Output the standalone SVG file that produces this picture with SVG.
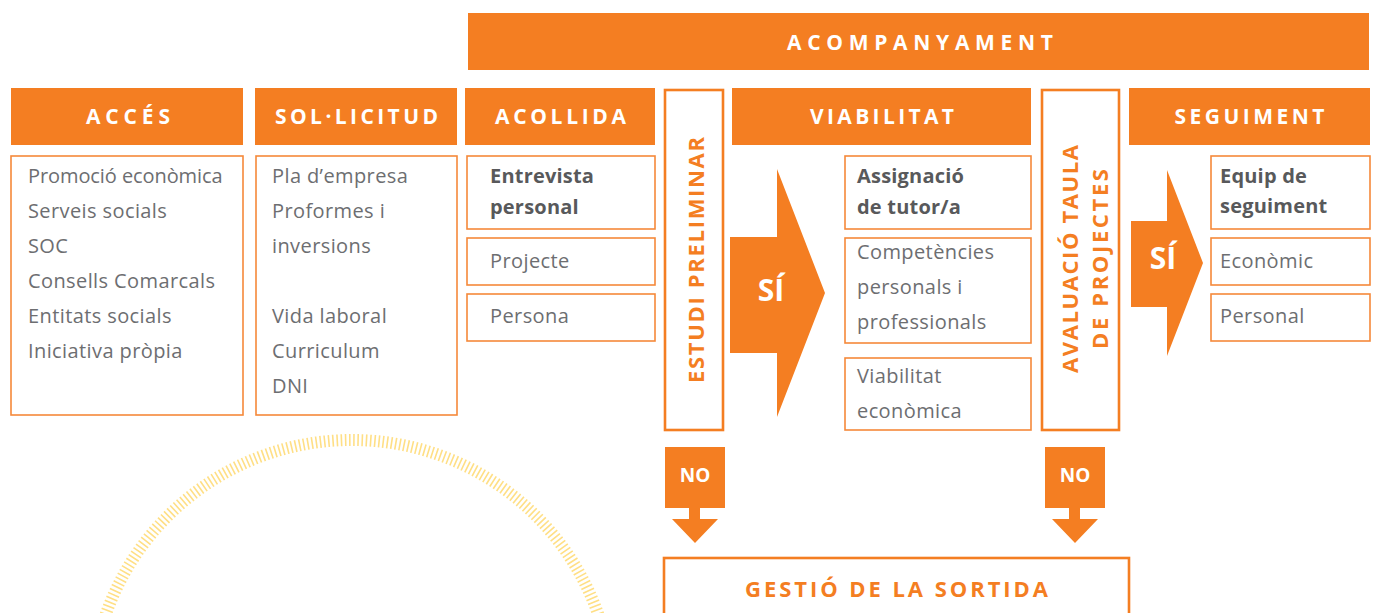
<svg xmlns="http://www.w3.org/2000/svg" width="1375" height="613" viewBox="0 0 1375 613">
<style>
.hdr{fill:#F47E22}
.box{fill:#fff;stroke:#F5893A;stroke-width:1.6}
.vbox{fill:#fff;stroke:#F47E22;stroke-width:2.6}
.ht{font-family:"Open Sans","Liberation Sans",sans-serif;font-weight:700;font-size:21px;fill:#fff;text-anchor:middle}
.vt{font-family:"Open Sans","Liberation Sans",sans-serif;font-weight:700;font-size:22px;fill:#F47E22;text-anchor:middle}
.t{font-family:"Open Sans","Liberation Sans",sans-serif;font-size:20px;letter-spacing:0.4px;fill:#6D6E71}
.b{font-family:"Open Sans","Liberation Sans",sans-serif;font-size:20px;font-weight:700;letter-spacing:0.2px;fill:#58595B}
.arr{fill:#F47E22}
.si{font-family:"Open Sans","Liberation Sans",sans-serif;font-weight:700;font-size:30px;fill:#fff;text-anchor:middle}
.no{font-family:"Open Sans","Liberation Sans",sans-serif;font-weight:700;font-size:19px;fill:#fff;text-anchor:middle}
</style>
<rect width="1375" height="613" fill="#fff"/>
<circle cx="352" cy="701" r="261" fill="none" stroke="#FFDF85" stroke-width="12" stroke-dasharray="1.6 2.6"/>

<g id="acompanyament">
<rect class="hdr" x="468" y="13" width="901" height="57"/>
<text class="ht" x="920" y="50" textLength="266" lengthAdjust="spacing">ACOMPANYAMENT</text>
</g>

<g id="acces">
<rect class="hdr" x="11" y="88" width="232" height="57"/>
<text class="ht" x="128" y="124" textLength="84" lengthAdjust="spacing">ACCÉS</text>
<rect class="box" x="11" y="156" width="232" height="259"/>
<text class="t" x="28" y="183" textLength="195" lengthAdjust="spacing">Promoció econòmica</text>
<text class="t" x="28" y="218">Serveis socials</text>
<text class="t" x="28" y="253">SOC</text>
<text class="t" x="28" y="288">Consells Comarcals</text>
<text class="t" x="28" y="323">Entitats socials</text>
<text class="t" x="28" y="358">Iniciativa pròpia</text>
</g>

<g id="sollicitud">
<rect class="hdr" x="255" y="88" width="202" height="57"/>
<text class="ht" x="356.5" y="124" textLength="163" lengthAdjust="spacing">SOL·LICITUD</text>
<rect class="box" x="256" y="156" width="201" height="259"/>
<text class="t" x="272" y="183">Pla d’empresa</text>
<text class="t" x="272" y="218">Proformes i</text>
<text class="t" x="272" y="253">inversions</text>
<text class="t" x="272" y="323">Vida laboral</text>
<text class="t" x="272" y="358">Curriculum</text>
<text class="t" x="272" y="393">DNI</text>
</g>

<g id="acollida">
<rect class="hdr" x="465" y="88" width="190" height="57"/>
<text class="ht" x="560.5" y="124" textLength="131" lengthAdjust="spacing">ACOLLIDA</text>
<rect class="box" x="467" y="156" width="188" height="73"/>
<text class="b" x="490" y="183">Entrevista</text>
<text class="b" x="490" y="214">personal</text>
<rect class="box" x="467" y="238" width="188" height="47"/>
<text class="t" x="490" y="268">Projecte</text>
<rect class="box" x="467" y="294" width="188" height="47"/>
<text class="t" x="490" y="323">Persona</text>
</g>

<g id="estudi">
<rect class="vbox" x="665" y="90" width="58" height="340"/>
<text class="vt" transform="translate(704 260) rotate(-90)" textLength="246" lengthAdjust="spacing">ESTUDI PRELIMINAR</text>
</g>

<g id="viabilitat">
<rect class="hdr" x="732" y="88" width="299" height="57"/>
<text class="ht" x="882" y="124" textLength="144" lengthAdjust="spacing">VIABILITAT</text>
<rect class="box" x="845" y="156" width="186" height="73"/>
<text class="b" x="857" y="183">Assignació</text>
<text class="b" x="857" y="214">de tutor/a</text>
<rect class="box" x="845" y="238" width="186" height="105"/>
<text class="t" x="857" y="259">Competències</text>
<text class="t" x="857" y="294">personals i</text>
<text class="t" x="857" y="329">professionals</text>
<rect class="box" x="845" y="358" width="186" height="72"/>
<text class="t" x="857" y="383">Viabilitat</text>
<text class="t" x="857" y="418">econòmica</text>
</g>

<g id="avaluacio">
<rect class="vbox" x="1042" y="90" width="77" height="340"/>
<text class="vt" transform="translate(1078 259) rotate(-90)" textLength="228" lengthAdjust="spacing">AVALUACIÓ TAULA</text>
<text class="vt" transform="translate(1108 259) rotate(-90)" textLength="180" lengthAdjust="spacing">DE PROJECTES</text>
</g>

<g id="seguiment">
<rect class="hdr" x="1129" y="88" width="241" height="57"/>
<text class="ht" x="1249.5" y="124" textLength="150" lengthAdjust="spacing">SEGUIMENT</text>
<rect class="box" x="1211" y="156" width="159" height="73"/>
<text class="b" x="1220" y="183">Equip de</text>
<text class="b" x="1220" y="213">seguiment</text>
<rect class="box" x="1211" y="238" width="159" height="47"/>
<text class="t" x="1220" y="268">Econòmic</text>
<rect class="box" x="1211" y="294" width="159" height="47"/>
<text class="t" x="1220" y="323">Personal</text>
</g>

<g id="sortida">
<rect class="vbox" x="664" y="558" width="465" height="70"/>
<text class="vt" x="896.5" y="597" textLength="303" lengthAdjust="spacing">GESTIÓ DE LA SORTIDA</text>
</g>

<g id="connectors">
<g id="si1">
<polygon class="arr" points="730,237 777,237 777,169 825,293 777,417 777,353 730,353"/>
<text class="si" x="771" y="301">SÍ</text>
</g>
<g id="si2">
<polygon class="arr" points="1131,221 1167,221 1167,170 1203,263 1167,356 1167,307 1131,307"/>
<text class="si" x="1163" y="269">SÍ</text>
</g>
<g id="no1">
<rect class="arr" x="665" y="447" width="60" height="61"/>
<text class="no" x="695" y="482">NO</text>
<polygon class="arr" points="689,507 700,507 700,519 718,519 695,543 672,519 689,519"/>
</g>
<g id="no2">
<rect class="arr" x="1045" y="447" width="60" height="61"/>
<text class="no" x="1075" y="482">NO</text>
<polygon class="arr" points="1069,507 1080,507 1080,519 1098,519 1075,543 1052,519 1069,519"/>
</g>
</g>
</svg>
